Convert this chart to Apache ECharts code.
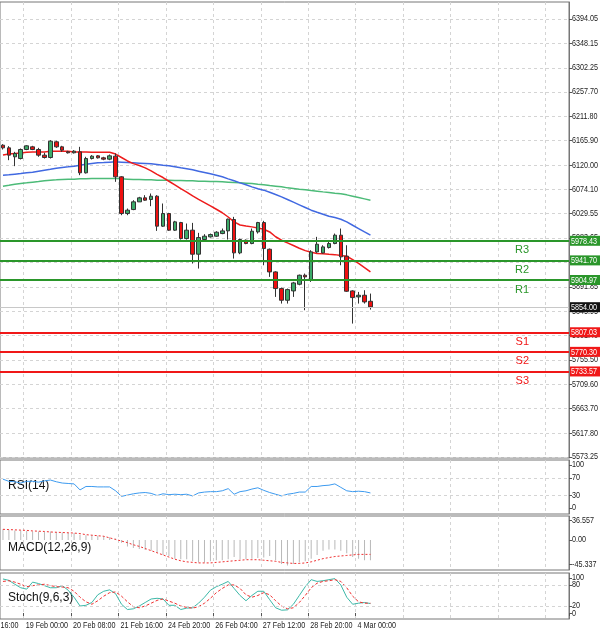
<!DOCTYPE html>
<html><head><meta charset="utf-8">
<script src="https://cdn.jsdelivr.net/npm/echarts@6/dist/echarts.min.js"></script>
<style>html,body{margin:0;padding:0;background:#fff}#c{width:600px;height:630px}</style>
</head><body><div id="c"></div>
<script>
const N = 96;
const dateTicks = {4:"19 Feb 00:00",12:"20 Feb 08:00",20:"21 Feb 16:00",28:"24 Feb 20:00",36:"26 Feb 04:00",44:"27 Feb 12:00",52:"28 Feb 20:00",60:"4 Mar 00:00"};
const priceTicks = [5573.25,5617.80,5663.70,5709.60,5755.50,5801.40,5845.95,5891.85,5937.75,5983.65,6029.55,6074.10,6120.00,6165.90,6211.80,6257.70,6302.25,6348.15,6394.05];
const rsiTicks = [0,30,70,100];
const macdTicks = [36.557,0,-45.337];
const stochTicks = [0,20,80,100];
// [open, close, low, high]
const ohlc = [
[6157.6,6152.6,6149.5,6159.5],[6152.6,6138.9,6129.5,6155.8],[6135.8,6142,6118.3,6145.1],[6132.6,6149.5,6130.8,6151.4],
[6149.5,6156.4,6148.3,6157.6],[6154.5,6149.5,6148.3,6156.4],[6149.5,6138.9,6135.8,6152.6],[6138.9,6134.5,6132.6,6143.3],
[6134.5,6165.1,6132.6,6167],[6163.9,6154.5,6152.6,6165.8],[6154.5,6148.3,6145.1,6156.4],[6145.1,6143.3,6142,6147],
[6143.3,6146.4,6142,6148.3],[6145.1,6105.8,6101.4,6154.5],[6105.8,6132.6,6104.5,6135.8],[6132.6,6137,6130.8,6138.9],
[6137.6,6133.9,6132.6,6138.9],[6133.9,6131.4,6129.5,6135.8],[6131.4,6137.6,6129.5,6140.1],[6137,6098.3,6088.9,6142],
[6098.3,6029.5,6026.4,6099.5],[6029.5,6035.8,6026.4,6038.9],[6037,6051.4,6035.8,6054.5],[6051.4,6058.9,6051.4,6060.8],
[6058.9,6054.5,6053.3,6063.9],[6055.8,6062,6043.3,6067],[6062,6005.8,5997,6063.9],[6005.8,6029.5,6004.5,6048.3],
[6029.5,5998.3,5997,6030.8],[5998.3,6013.9,5997,6015.8],[6012.6,5982.6,5980.8,6013.9],[5982.6,5998.3,5980.8,6010.8],
[5998.3,5953.3,5935.8,6012],[5953.3,5984.5,5926.4,5993.3],[5980.8,5987,5979.5,5990.8],[5985.8,5990.1,5984.5,5992],
[5987,5994.5,5985.8,5996.4],[5992,5997,5990.8,6001.4],[5997,6018.9,5980.8,6020.1],[6018.3,5955.8,5945.1,6023.3],
[5955.8,5980.8,5953.3,5982.6],[5979.5,5973.3,5972,5980.8],[5973.3,5996.4,5972,6001.4],[5995.1,6012.6,5992,6013.9],
[6012.6,5963.9,5932.6,6015.8],[5962.6,5920.1,5910.8,5963.9],[5920.1,5888.9,5873.3,5921.4],[5888.9,5867,5860.8,5890.8],
[5867,5887,5860.8,5888.9],[5884.5,5899.5,5873.3,5901.4],[5897,5913.9,5895.1,5915.1],[5913.9,5910.8,5848.3,5917],
[5904.5,5957.6,5901.4,5960.8],[5957.6,5972,5955.8,5985.8],[5955.8,5967,5954.5,5970.1],[5965.8,5973.3,5963.9,5976.4],
[5973.3,5988.9,5972,5992],[5988.9,5948.3,5932.6,6001.4],[5949.5,5883.9,5882.6,5970.1],[5884.5,5872,5823.3,5885.8],
[5873.3,5876.4,5860.8,5882.6],[5876.4,5863.9,5860.8,5885.8],[5865.1,5854.5,5849.5,5879.5]
];
const maFast = [6139,6141,6142,6143,6144.5,6145,6145,6145,6146,6146,6146,6146,6145,6145,6145,6144.5,6144.5,6144.5,6144.5,6141,6134.5,6128,6123,6119.5,6115,6109.5,6103,6097,6090,6083,6076,6069.5,6062.5,6056,6050,6044,6037.5,6031,6023,6014,6008,6006,6004.5,6002.5,6000,5995,5986,5979.5,5974.5,5969.5,5964.5,5960,5957,5954.5,5954,5953,5952.5,5951,5949.5,5943,5936,5928,5920];
const maMid = [6101.4,6102,6103.3,6104.5,6105.8,6107,6108.9,6110.8,6112.6,6114.5,6115.8,6117,6118.3,6120.1,6122,6123.3,6124.5,6125.1,6125.8,6126.4,6125.8,6125.1,6124.5,6123.9,6123.3,6122.6,6121.4,6120.1,6118.9,6117,6115.1,6113.3,6111.4,6108.9,6106.4,6103.9,6101.4,6098.3,6094.5,6090.8,6087,6083.3,6079.5,6075.8,6073.3,6069.5,6065.1,6060.8,6055.8,6050.8,6045.8,6040.8,6035.8,6032,6028.3,6024.5,6022,6018.9,6013.9,6007.6,6001.4,5995.1,5988.9];
const maSlow = [6080.8,6082.6,6084.5,6085.8,6087,6088.3,6089.5,6090.8,6092,6092.6,6093.3,6093.9,6093.9,6094.5,6094.5,6095.1,6095.1,6095.1,6095.1,6095.1,6094.5,6093.9,6093.3,6093.3,6092.6,6092.6,6092,6092,6092,6091.4,6091.4,6090.8,6090.8,6090.1,6090.1,6089.5,6089.5,6088.9,6088.3,6087.6,6087,6086.4,6085.8,6084.5,6083.3,6082,6080.8,6079.5,6077.6,6076.4,6075.1,6073.9,6072.6,6071.4,6070.1,6068.9,6067.6,6066.4,6064.5,6062,6059.5,6057,6054.5];
const rsi = [67,62,61,58,62,62,60,63,65,61,58,57,56,42,50,50,49,49,49,40,27,30,33,35,36,34,29,33,31,32,31,32,28,35,37,38,38,40,45,32,38,40,44,47,41,36,32,28,32,34,37,37,50,50,52,53,56,48,40,38,39,38,35];
const macdHist = [20,19,18,18,17,16,16,15,16,15,14,13,13,10,9,9,8,7,5,3,-5,-12,-15,-17,-19,-20,-24,-28,-30,-35,-36,-36,-40,-42,-42,-40,-38,-38,-36,-32,-36,-36,-35,-34,-33,-30,-38,-45,-48,-45,-42,-40,-35,-28,-20,-18,-18,-20,-25,-32,-35,-38,-38];
const macdSignal = [20,19.5,19,18.5,18,17,16.5,16,15,14.5,14,13.5,13,12,10,9,8,7,4,1,-2,-5,-9,-12,-16,-20,-24,-28,-32,-36,-39,-41,-42,-43,-43,-43,-42,-41,-40,-39,-38,-37,-37,-37,-38,-39,-40,-42,-43,-44,-44,-43,-41,-38,-35,-33,-31,-30,-29,-28,-27,-27,-27];
const stochK = [97,93,82,72,68,88,84,78,72,72,78,65,45,20,22,30,52,62,66,55,25,10,12,20,30,40,42,40,22,22,10,14,15,28,45,65,75,82,90,70,50,35,50,62,62,38,15,8,9,25,50,75,95,90,92,95,98,80,45,25,28,30,27];
const stochD = [90,92,88,82,75,78,80,82,78,75,74,72,62,45,32,25,35,48,58,60,48,32,18,15,20,28,36,40,34,28,20,16,14,18,28,42,58,70,80,80,70,52,45,50,58,52,35,20,12,15,30,50,72,85,90,92,95,90,72,48,32,28,28];
const resist = [["R1",5904.97],["R2",5941.70],["R3",5978.43]];
const support = [["S1",5807.03],["S2",5770.30],["S3",5733.57]];
const lastPrice = 5854.00;

const FONT = 'Arial';
const SX = 0.8;
const cats = Array.from({length:N},(_,i)=>i);
const GRID = '#d4d4d4';
const GREEN = '#2a962a', RED = '#f01818';
const grids = [
 {left:0,right:31,top:2,height:456},
 {left:0,right:31,top:460,height:54},
 {left:0,right:31,top:516,height:54},
 {left:0,right:31,top:573,height:46}
].map(g=>Object.assign(g,{show:true,borderColor:'#777',borderWidth:1,backgroundColor:'#fff',outerBoundsMode:'none',containLabel:false}));
function xa(i,showTick){
 return {type:'category',gridIndex:i,data:cats,boundaryGap:true,
  axisLine:{show:false},axisTick:{show:showTick,interval:(k)=>k%8===4&&k<=60,length:3,lineStyle:{color:'#555'}},
  axisLabel:{show:false},
  splitLine:{show:true,interval:(k)=>k%8===4,lineStyle:{color:GRID,type:[3,3]}}};
}
function ya(i,min,max,vals,split){
 return {type:'value',gridIndex:i,position:'right',min:min,max:max,
  axisLine:{show:true,lineStyle:{color:'#777'}},
  axisTick:{show:true,customValues:vals,length:3,lineStyle:{color:'#555'}},
  axisLabel:{show:false},
  splitLine:{show:split,lineStyle:{color:GRID,type:[3,3]}}};
}
function lvlLines(arr,col){
 return arr.map(([n,v])=>({yAxis:v,lineStyle:{color:col,width:2,type:'solid'},
    label:{show:true,position:'insideEndBottom',distance:4,formatter:n,color:col,fontSize:11,padding:[0,36,0,0],fontFamily:FONT}}));
}
const chart = echarts.init(document.getElementById('c'),null,{renderer:'canvas'});
chart.setOption({
 animation:false,
 grid:grids,
 xAxis:[xa(0,false),xa(1,false),xa(2,false),xa(3,true)],
 yAxis:[
  ya(0,5571.4,6425.9,priceTicks,true),
  ya(1,-14,111.6,rsiTicks,false),
  ya(2,-56.3,45,macdTicks,false),
  ya(3,-17,114,stochTicks,false)
 ],
 series:[
  {type:'candlestick',xAxisIndex:0,yAxisIndex:0,data:ohlc,barWidth:4,z:3,
   itemStyle:{color:'#3dab6a',color0:'#ee1010',borderColor:'#333',borderColor0:'#333',borderWidth:1},
   markLine:{symbol:'none',silent:true,animation:false,
    data:[{yAxis:lastPrice,lineStyle:{color:'#c8c8c8',width:1,type:'solid'},label:{show:false}}]
     .concat(lvlLines(resist,GREEN)).concat(lvlLines(support,RED))}},
  {type:'line',xAxisIndex:0,yAxisIndex:0,data:maSlow,showSymbol:false,lineStyle:{color:'#4cbb78',width:1.5}},
  {type:'line',xAxisIndex:0,yAxisIndex:0,data:maMid,showSymbol:false,lineStyle:{color:'#4169e1',width:1.5}},
  {type:'line',xAxisIndex:0,yAxisIndex:0,data:maFast,showSymbol:false,lineStyle:{color:'#ee1c1c',width:1.5}},
  {type:'line',xAxisIndex:1,yAxisIndex:1,data:rsi,showSymbol:false,lineStyle:{color:'#3d9bf0',width:1},
   markLine:{symbol:'none',silent:true,label:{show:false},lineStyle:{color:GRID,type:[3,3],width:1},data:[{yAxis:30},{yAxis:70}]}},
  {type:'bar',xAxisIndex:2,yAxisIndex:2,data:macdHist,barWidth:1,itemStyle:{color:'#b8b8b8'}},
  {type:'line',xAxisIndex:2,yAxisIndex:2,data:macdSignal,showSymbol:false,lineStyle:{color:'#f03030',width:1,type:[2,2]}},
  {type:'line',xAxisIndex:3,yAxisIndex:3,data:stochK,showSymbol:false,lineStyle:{color:'#3cb8a8',width:1},
   markLine:{symbol:'none',silent:true,label:{show:false},lineStyle:{color:GRID,type:[3,3],width:1},data:[{yAxis:20},{yAxis:80}]}},
  {type:'line',xAxisIndex:3,yAxisIndex:3,data:stochD,showSymbol:false,lineStyle:{color:'#f03030',width:1,type:[3,2]}}
 ]
});
// axis labels placed through the library's own scales
const g = [];
const ax = 572;
function txt(x,y,s,fill,z,va){
 return {type:'text',x:x,y:y,scaleX:SX,z:z,style:{text:s,fontSize:9,fill:fill,fontFamily:FONT,textVerticalAlign:va||'middle'}};
}
function yLabels(idx,vals,fmt){
 vals.forEach(v=>{
  const y = chart.convertToPixel({gridIndex:idx},[0,v])[1];
  g.push(txt(ax,y,fmt(v),'#222',1));
 });
}
yLabels(0,priceTicks,v=>v.toFixed(2));
yLabels(1,rsiTicks,v=>String(v));
yLabels(2,macdTicks,v=>v===0?'0.00':v.toFixed(3));
yLabels(3,stochTicks,v=>String(v));
function box(v,col){
 const y = chart.convertToPixel({gridIndex:0},[0,v])[1];
 g.push({type:'rect',z:5,shape:{x:570,y:y-5,width:30,height:10},style:{fill:col}});
 g.push(txt(571,y+0.5,v.toFixed(2),'#fff',6));
}
resist.forEach(r=>box(r[1],GREEN));
support.forEach(s=>box(s[1],RED));
box(lastPrice,'#111');
Object.keys(dateTicks).forEach(k=>{
 const x = chart.convertToPixel({gridIndex:3},[Number(k),0])[0];
 g.push(txt(x-1,621,dateTicks[k],'#222',1,'top'));
});
g.push(txt(-24,621,'18 Feb 16:00','#222',1,'top'));
g.push({type:'text',left:8,top:480,style:{text:'RSI(14)',fontSize:12,fill:'#111',fontFamily:FONT}});
g.push({type:'text',left:8,top:542,style:{text:'MACD(12,26,9)',fontSize:12,fill:'#111',fontFamily:FONT}});
g.push({type:'text',left:8,top:592,style:{text:'Stoch(9,6,3)',fontSize:12,fill:'#111',fontFamily:FONT}});
chart.setOption({graphic:g});
</script></body></html>
